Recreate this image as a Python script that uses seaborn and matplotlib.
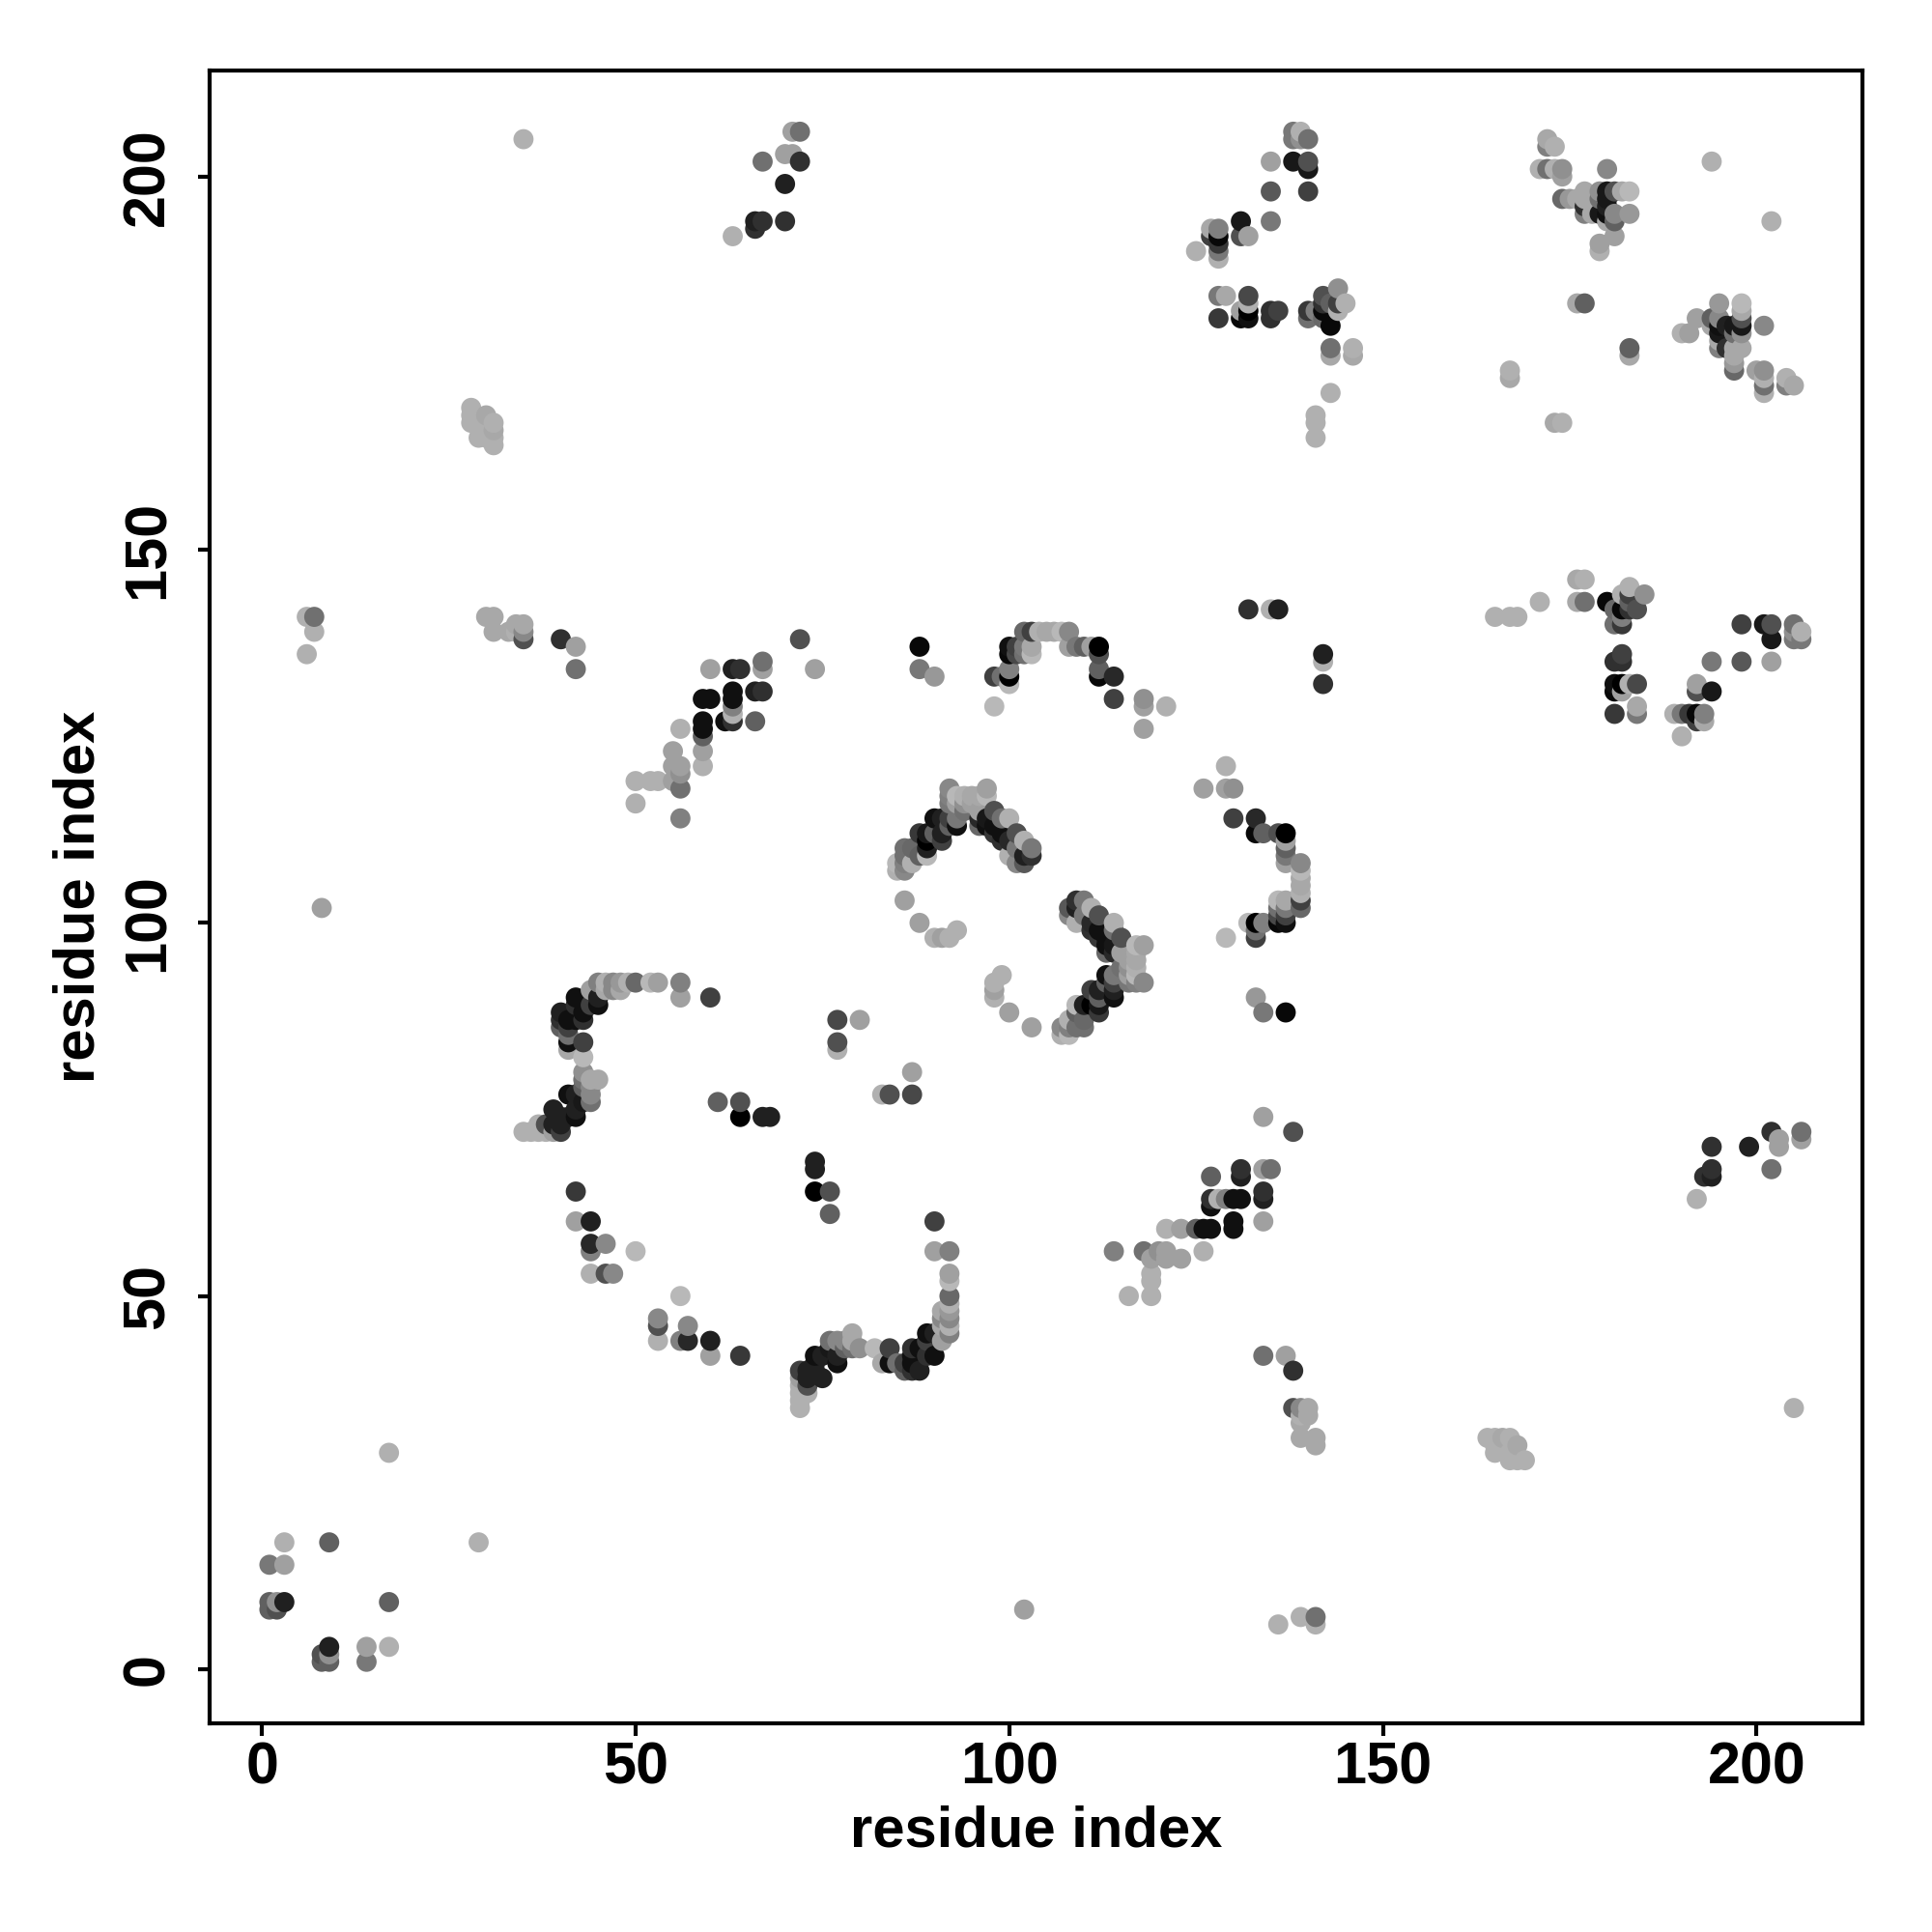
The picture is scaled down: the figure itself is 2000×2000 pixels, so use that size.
import pandas as pd
import seaborn as sns
import matplotlib
matplotlib.use("Agg")
import matplotlib.pyplot as plt

origin = [(1,8,0x60),(1,9,0x60),(2,8,0x50),(2,9,0x90),(3,9,0x20),(1,14,0x78),(3,14,0xa0),(3,17,0xb0),
          (9,17,0x60),(17,29,0xb0),(8,102,0xa0),(6,136,0xb0),(6,141,0xb0),(7,139,0xb0),(7,141,0x70)]
near_30 = [(28,167,0xb0),(28,168,0xb0),(28,169,0xb0),(29,165,0xb0),(29,167,0xb0),(30,165,0xb0),(30,166,0xb0),
           (30,168,0xa8),(31,164,0xb0),(31,165,0xb0),(31,166,0xa8),(31,167,0xb0),(35,205,0xb0),
           (30,141,0xa8),(31,141,0xa8),(31,139,0xa8),(33,139,0xa8),(34,140,0xa8),(35,140,0xa8),(34,139,0xb0),
           (35,138,0x50),(35,139,0x88),(40,138,0x30),(42,137,0xa0),(42,134,0x70)]
arc_72_92 = [(35,72,0xb0),(36,72,0xb0),(37,72,0xb0),(38,72,0xb0),(39,72,0xa0),(40,72,0x40),(37,73,0xb0),(38,73,0x50),
             (39,73,0x20),(39,75,0x20),(40,73,0x20),(40,74,0x20),(41,74,0x20),(41,77,0x10),(42,74,0x10),(42,77,0x20),
             (42,75,0x20),(43,76,0x18),(44,76,0x70),(44,77,0x88),(44,78,0x88),(44,79,0xa8),(45,79,0xa8),(43,80,0x90),
             (43,79,0x70),(43,78,0x60),(43,82,0xb8),(43,84,0x40),(41,83,0xa8),(41,84,0x10),(41,85,0x70),(40,86,0x60),
             (40,87,0x30),(40,88,0x20),(41,87,0x10),(41,86,0x40),(42,90,0x10),(42,87,0x10),(42,89,0x30),(43,88,0x10),
             (43,87,0x30),(44,91,0xa0),(44,89,0x40),(45,89,0x10),(45,90,0x20),(45,92,0x80),(46,92,0xb0),(46,91,0xa8),
             (47,92,0x88),(47,91,0x88),(48,92,0x98),(48,91,0xa8),(49,92,0xb0),(50,92,0x68),(52,92,0xb8),(53,92,0xa0),
             (56,92,0x80),(56,90,0xa0),(60,90,0x40)]
loop_50s = [(42,64,0x38),(42,60,0xa0),(44,60,0x20),(44,57,0x28),(44,56,0x80),(46,57,0x88),(44,53,0xb0),(46,53,0x50),
            (47,53,0x88),(50,56,0xb8),(61,76,0x60),(64,76,0x50),(64,74,0x00),(67,74,0x20),(68,74,0x20),
            (77,87,0x48),(80,87,0xa0),(77,84,0x50),(77,83,0xb0)]
sheet_50_67 = [(50,119,0xb0),(50,116,0xb0),(52,119,0xb0),(53,119,0xb0),(55,119,0xa0),(55,121,0xa0),(55,123,0xa0),
               (56,121,0xa0),(56,118,0x70),(56,120,0x90),(56,114,0x80),(56,126,0xb0),(59,121,0xb0),(59,123,0xa0),
               (59,125,0x60),(59,126,0x10),(59,127,0x10),(59,130,0x10),(60,130,0x10),(60,134,0xa0),(62,127,0x10),
               (63,127,0x30),(63,128,0xb0),(63,129,0x80),(63,130,0x10),(63,131,0x10),(63,134,0x20),(64,134,0x30),
               (66,127,0x60),(66,131,0x20),(67,131,0x30),(67,134,0xa0),(67,135,0x70),(72,138,0x50),(74,134,0xa0)]
top_63_72 = [(63,192,0xb0),(66,193,0x30),(66,194,0x20),(67,194,0x30),(70,194,0x30),(70,199,0x20),(67,202,0x70),
             (70,203,0xa0),(71,203,0xa0),(72,202,0x30),(71,206,0xa0),(72,206,0x70)]
arch_88_121 = [(88,137,0x08),(88,134,0x78),(90,133,0x98),(98,133,0x40),(99,133,0x70),(100,133,0x00),(100,132,0xb8),
               (100,134,0x80),(98,129,0xb8),(100,137,0x10),(100,136,0x08),(101,137,0x40),(101,136,0x48),(102,137,0x78),
               (102,136,0x70),(102,139,0x68),(103,139,0x40),(103,137,0xa8),(103,136,0xb8),(104,139,0xb0),(105,139,0xa8),
               (106,139,0xa8),(107,139,0xb8),(108,139,0x88),(108,137,0xa0),(109,137,0x78),(110,137,0x60),(111,137,0xa0),
               (112,137,0x00),(112,136,0x50),(112,134,0x60),(112,133,0x08),(114,133,0x28),(114,130,0x40),(118,130,0x90),
               (118,129,0xa0),(118,126,0xa0),(121,129,0xb0),(132,142,0x30),(135,142,0xb0),(136,142,0x20)]
helix_85_103 = [(85,107,0xb0),(85,108,0xb8),(86,107,0x88),(86,108,0x80),(86,109,0x70),(86,110,0x70),(87,108,0xb0),
                (87,110,0x68),(88,109,0x60),(88,112,0x38),(89,109,0xb8),(89,110,0x20),(89,111,0x00),(89,112,0x18),
                (90,112,0x60),(90,114,0x10),(91,111,0x40),(91,112,0x20),(91,114,0x20),(92,118,0x88),(92,117,0x80),
                (92,116,0x78),(92,114,0x40),(92,113,0x60),(93,116,0xa0),(93,117,0xb8),(93,113,0x10),(93,114,0x78),
                (94,117,0xb0),(94,116,0x90),(94,115,0x70),(95,117,0xa8),(95,116,0xa0),(96,113,0x68),(96,114,0x28),
                (96,115,0xa0),(96,117,0xa8),(97,118,0xa0),(97,117,0xb8),(97,114,0x18),(97,113,0x10),(98,115,0x50),
                (98,113,0x10),(98,112,0x38),(99,114,0x70),(99,112,0x10),(99,111,0x30),(100,114,0xb0),(100,109,0xb0),
                (100,111,0x28),(101,112,0x50),(101,110,0x78),(101,108,0x88),(102,111,0xb0),(102,109,0x20),(102,108,0x58),
                (103,110,0x78),(103,109,0x30),(86,103,0xa0),(88,100,0xa0),(90,98,0xb0),(91,98,0xa0),(92,98,0xb0),(93,99,0xb0)]
band_128_146 = [(128,181,0x38),(128,184,0x78),(129,184,0xa8),(131,181,0x08),(131,182,0xa0),(132,181,0x10),(132,182,0x00),
                (132,183,0xb0),(132,184,0x48),(135,181,0x30),(135,182,0x30),(136,182,0x40),(140,182,0x38),(140,181,0x70),
                (141,182,0x80),(142,181,0x68),(142,182,0x08),(142,183,0x30),(142,184,0x50),(143,180,0x08),(143,183,0x60),
                (144,182,0xb0),(144,183,0x40),(144,185,0x90),(145,183,0xb0),(143,177,0x70),(143,176,0xa8),(146,177,0xb0),
                (146,176,0xa8),(143,171,0xb0),(141,168,0xb0),(141,167,0xb0),(141,165,0xb0)]
top_125_140 = [(125,190,0xb0),(127,193,0xa8),(128,193,0x80),(127,192,0x40),(128,192,0x08),(128,191,0x38),(128,190,0x78),
               (128,189,0xb0),(131,194,0x18),(131,192,0x50),(132,192,0xa0),(135,194,0x78),(135,198,0x58),(135,202,0xa0),
               (138,202,0x18),(140,202,0x50),(140,201,0x18),(140,198,0x40),(138,206,0x78),(138,205,0x78),(139,206,0xb0),
               (139,205,0x90),(140,205,0x70)]
top_167_194 = [(172,205,0xa8),(172,204,0x80),(173,204,0xb0),(171,201,0xb0),(172,201,0x70),(173,201,0xb0),(174,201,0x90),
               (174,200,0xa0),(180,201,0x88),(174,197,0x68),(175,197,0x98),(177,198,0xa8),(177,197,0xa8),(177,195,0x80),
               (176,197,0xa8),(177,196,0x30),(178,195,0xa8),(179,198,0x90),(179,197,0x70),(179,195,0x18),(179,191,0xa0),
               (179,190,0xb0),(180,198,0x18),(180,197,0x18),(180,196,0x20),(180,195,0x10),(180,194,0xa8),(181,198,0x50),
               (181,195,0x88),(181,194,0x60),(181,192,0xa0),(182,198,0xa8),(183,198,0xb8),(183,195,0x98),(194,202,0xb0),
               (176,183,0xa8),(177,183,0x60),(167,174,0xb0),(167,173,0xa8)]

tick_values = [0, 50, 100, 150, 200]


def build_table():
    rows = (origin + near_30 + arc_72_92 + loop_50s + sheet_50_67 + top_63_72
            + arch_88_121 + helix_85_103 + band_128_146 + top_125_140 + top_167_194)
    upper = pd.DataFrame(rows, columns=["i", "j", "gray"])
    lower = upper.rename(columns={"i": "j", "j": "i"})
    df = pd.concat([upper, lower], ignore_index=True)
    # later residues are painted on top, as in the original
    df = df.sort_values(["i", "j"]).reset_index(drop=True)
    df["shade"] = df["gray"].map(lambda g: "#{0:02x}{0:02x}{0:02x}".format(g))
    return df


def main():
    sns.set_theme(style="white")
    plt.rcParams["font.family"] = ["Liberation Sans", "DejaVu Sans"]
    plt.rcParams["font.weight"] = "bold"

    df = build_table()
    fig = plt.figure(figsize=(20, 20), dpi=100)
    ax = fig.add_axes([0.1085, 0.1078, 0.8556, 0.8557])

    sns.scatterplot(data=df, x="i", y="j", hue="shade",
                    palette={s: s for s in df["shade"].unique()},
                    s=225, linewidth=0, alpha=1, legend=False, ax=ax)

    ax.set_xlim(-7, 214.2)
    ax.set_ylim(-7.3, 214.2)
    ax.set_xticks(tick_values)
    ax.set_yticks(tick_values)
    ax.tick_params(axis="both", length=9, width=3, color="black",
                   labelsize=44, labelcolor="black", bottom=True, left=True)
    ax.tick_params(axis="x", pad=4)
    ax.tick_params(axis="y", pad=16)
    for label in ax.get_yticklabels():
        label.set_rotation(90)
        label.set_va("center")
    for spine in ax.spines.values():
        spine.set_visible(True)
        spine.set_color("black")
        spine.set_linewidth(3)

    ax.set_xlabel("residue index", fontsize=43, fontweight="bold", color="black")
    ax.set_ylabel("residue index", fontsize=43, fontweight="bold", color="black")
    ax.xaxis.set_label_coords(0.5, -0.049, transform=ax.transAxes)
    ax.yaxis.set_label_coords(-0.0626, 0.5, transform=ax.transAxes)

    fig.savefig("out.png", dpi=100)


if __name__ == "__main__":
    main()
